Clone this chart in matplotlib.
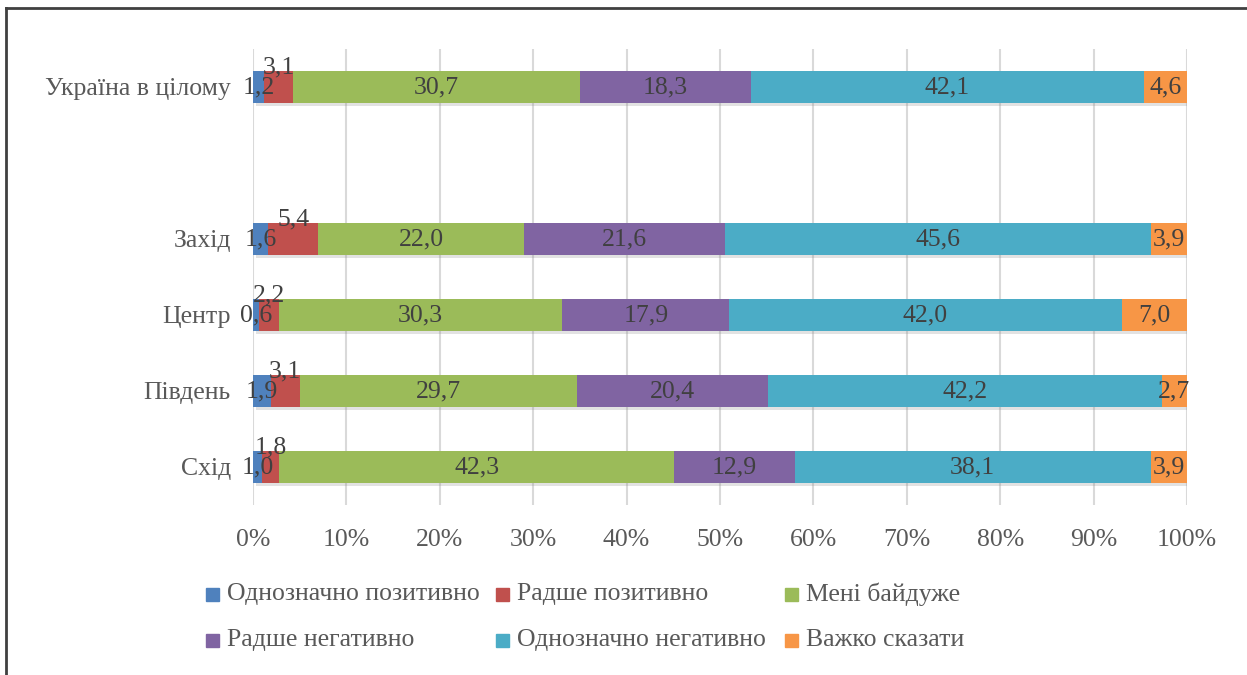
import matplotlib
matplotlib.use("Agg")
from matplotlib import pyplot as plt
from matplotlib.lines import Line2D
from matplotlib.patches import Rectangle
import matplotlib.patheffects as pe
from matplotlib.ticker import FuncFormatter
import numpy as np

plt.rcParams['font.family'] = ['Liberation Serif', 'DejaVu Serif']

# categories from bottom to top, '' = empty gap row
regions = ['Схід', 'Південь', 'Центр', 'Захід', '', 'Україна в цілому']
series = ['Однозначно позитивно', 'Радше позитивно', 'Мені байдуже',
          'Радше негативно', 'Однозначно негативно', 'Важко сказати']
colors = ['#4F81BD', '#C0504D', '#9BBB59', '#8064A2', '#4BACC6', '#F79646']

east = [1.0, 1.8, 42.3, 12.9, 38.1, 3.9]
south = [1.9, 3.1, 29.7, 20.4, 42.2, 2.7]
centre = [0.6, 2.2, 30.3, 17.9, 42.0, 7.0]
west = [1.6, 5.4, 22.0, 21.6, 45.6, 3.9]
ukraine = [1.2, 3.1, 30.7, 18.3, 42.1, 4.6]

rows = {0: east, 1: south, 2: centre, 3: west, 5: ukraine}

txt_col = '#595959'
lab_col = '#404040'
fs = 18.5

fig = plt.figure(figsize=(12.47, 6.75), dpi=100)
ax = fig.add_axes([253 / 1247, 1 - 505 / 675, 934 / 1247, 456 / 675])

shadow = [pe.SimplePatchShadow(offset=(2, -2.5), shadow_rgbFace='#8c8c8c', alpha=0.25), pe.Normal()]

for ypos, vals in rows.items():
    vals = np.array(vals)
    frac = vals / vals.sum()
    left = 0.0
    for i, (f, v) in enumerate(zip(frac, vals)):
        bar = ax.barh(ypos, f, left=left, height=0.41, color=colors[i], zorder=3)
        for p in bar.patches:
            p.set_path_effects(shadow)
        lab = f"{v:.1f}".replace('.', ',')
        cx = left + f / 2
        if i == 1:
            # small red segment: label sits above the bar
            ax.annotate(lab, (cx, ypos), xytext=(0, 20), textcoords='offset pixels',
                        ha='center', va='center', fontsize=fs, color=lab_col, zorder=5)
        else:
            ax.text(cx, ypos, lab, ha='center', va='center', fontsize=fs,
                    color=lab_col, zorder=5)
        left += f

ax.set_xlim(0, 1)
ax.set_ylim(-0.5, 5.5)
ax.set_xticks(np.linspace(0, 1, 11))
ax.xaxis.set_major_formatter(FuncFormatter(lambda x, _: f"{x * 100:.0f}%"))
ax.set_yticks(range(len(regions)))
ax.set_yticklabels(regions)
ax.tick_params(axis='both', length=0, labelsize=fs, labelcolor=txt_col)
ax.tick_params(axis='x', pad=17)
ax.tick_params(axis='y', pad=16)
ax.grid(axis='x', color='#D9D9D9', linewidth=1.5, zorder=0)
ax.set_axisbelow(True)
for s in ax.spines.values():
    s.set_visible(False)

# legend, laid out as in the original (3 columns x 2 rows)
col_x = [206, 496, 785]
row_y = [594, 640]
for k, name in enumerate(series):
    r, c = divmod(k, 3)
    x0 = col_x[c] / 1247
    yc = 1 - row_y[r] / 675
    fig.patches.append(Rectangle((x0, yc - 6.5 / 675), 13 / 1247, 13 / 675,
                                 transform=fig.transFigure, color=colors[k]))
    fig.text(x0 + 21 / 1247, yc, name, ha='left', va='center', fontsize=fs,
             color=txt_col)

# chart frame (clipped at right and bottom)
fig.add_artist(Line2D([6 / 1247, 1], [1 - 8 / 675, 1 - 8 / 675],
                      transform=fig.transFigure, color='#404040', lw=2))
fig.add_artist(Line2D([6 / 1247, 6 / 1247], [0, 1 - 8 / 675],
                      transform=fig.transFigure, color='#404040', lw=2))

fig.savefig('out.png', dpi=100)
